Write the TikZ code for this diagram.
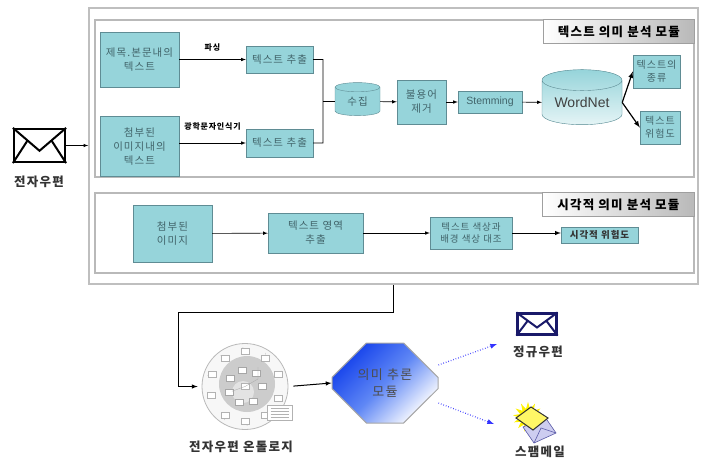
\documentclass[tikz,border=0pt]{standalone}
\usepackage{fontspec}
\setmainfont{Noto Sans CJK KR}[LetterSpace=10]
\newfontfamily\latinfont{Liberation Sans}
\usetikzlibrary{arrows, positioning, shapes.geometric, shapes.misc, calc}

\definecolor{boxfill}{RGB}{150,212,218}
\definecolor{boxline}{RGB}{95,140,148}
\definecolor{boxtext}{RGB}{65,100,106}
\definecolor{octblue}{RGB}{20,65,235}
\definecolor{octmid}{RGB}{95,135,245}
\definecolor{navy}{RGB}{25,25,105}
\definecolor{envlilac}{RGB}{205,205,240}

\tikzset{
  box/.style={draw=boxline, fill=boxfill, text=boxtext, align=center, inner sep=0pt,
    font=\fontsize{10.5}{14}\selectfont},
  db/.style={cylinder, shape border rotate=90, draw=boxline, inner sep=0pt, align=center},
  module/.style={draw=gray!55, line width=1.2pt},
  tab/.style={draw=gray!75, left color=white, right color=gray!55, anchor=north east,
    minimum height=24pt, inner sep=0pt, font=\fontsize{12.5}{14}\selectfont\bfseries},
  link/.style={->, >=latex, line width=0.6pt},
  mailicon/.style={draw, fill=white, line width=2.2pt, inner sep=0pt},
  caption/.style={font=\fontsize{12.5}{14}\selectfont\bfseries, text=black!80},
  minibox/.style={draw=gray!60, fill=white, line width=0.3pt, minimum width=8pt,
    minimum height=6pt, inner sep=0pt}
}

\begin{document}
\begin{tikzpicture}[x=1pt, y=-1pt]
\useasboundingbox (0,0) rectangle (708,461);

% frame and the two analysis modules
\node[draw=gray!50, line width=1.6pt, minimum width=609pt, minimum height=276pt] (frame) at (393.5,146) {};
\node[module, minimum width=599pt, minimum height=157pt] (textmod) at (394.5,98.5) {};
\node[module, minimum width=599pt, minimum height=80pt] (vismod) at (394.5,233) {};
\node[tab, minimum width=151pt] (texttab) at (textmod.north east) {텍스트 의미 분석 모듈};
\node[tab, minimum width=152pt] (vistab) at (vismod.north east) {시각적 의미 분석 모듈};

% text module
\node[box, minimum width=79pt, minimum height=55pt] (title) at (139.5,59.5) {제목.본문내의\\텍스트};
\node[box, minimum width=79pt, minimum height=60pt] (attach) at (139.5,146.5) {첨부된\\이미지내의\\텍스트};
\node[box, minimum width=67pt, minimum height=27pt] (ext1) at (279.5,59.5) {텍스트 추출};
\node[box, minimum width=67pt, minimum height=28pt] (ext2) at (279.5,143) {텍스트 추출};
\node[db, box, aspect=0.45, minimum width=45pt, minimum height=33pt] (collect) at (357.5,101.5) {수집};
\node[box, minimum width=49pt, minimum height=44pt] (stop) at (421.5,102) {불용어\\제거};
\node[box, minimum width=64pt, minimum height=22pt, font=\latinfont\fontsize{10.5}{12}\selectfont] (stem) at (490,102) {Stemming};
\node[db, box, aspect=0.38, minimum width=80pt, minimum height=55pt, top color=boxfill,
  bottom color=boxfill!25, text=black!75, font=\latinfont\fontsize{14}{16}\selectfont] (wordnet) at (582,102.5) {WordNet};
\node[box, minimum width=47pt, minimum height=33pt, font=\fontsize{10}{13}\selectfont] (kind) at (656.5,71.5) {텍스트의\\종류};
\node[box, minimum width=40pt, minimum height=33pt, font=\fontsize{10}{13}\selectfont] (risk) at (660,127.5) {텍스트\\위험도};

\coordinate (join) at (323,101.5);
\draw[link] (title) -- node[above=5pt, font=\fontsize{8}{9}\selectfont\bfseries] {파싱} (ext1);
\draw[link] (attach.east |- ext2) -- node[above=9pt, font=\fontsize{8}{9}\selectfont\bfseries] {광학문자인식기} (ext2);
\draw[line width=0.6pt] (ext1) -| (join) (ext2) -| (join) (join) -- (collect);
\draw[link] (collect) -- (stop);
\draw[link] (stop) -- (stem);
\draw[link] (stem) -- (wordnet);
\draw[link, line width=1.2pt] (wordnet.east) -- (kind.west);
\draw[link, line width=1.2pt] (wordnet.east) -- (risk.west);

% visual module
\node[box, minimum width=79pt, minimum height=57pt] (img) at (172.5,233.5) {첨부된\\이미지};
\node[box, minimum width=95pt, minimum height=40pt] (area) at (315.5,233) {텍스트 영역\\추출};
\node[box, minimum width=82pt, minimum height=32pt, font=\fontsize{9.5}{12.5}\selectfont] (contrast) at (471,233) {텍스트 색상과\\배경 색상 대조};
\node[box, minimum width=77pt, minimum height=16pt, text=black!80, font=\fontsize{9.5}{11}\selectfont\bfseries] (vrisk) at (599.5,235) {시각적 위험도};

\draw[link] (img) -- (area);
\draw[link] (area) -- (contrast);
\draw[link, line width=1pt] (contrast.east) -- (contrast.east -| vrisk.west);

% incoming mail
\node[mailicon, minimum width=51pt, minimum height=33pt] (mail) at (39.5,145.5) {};
\node[caption] (mailcap) at (39,182) {전자우편};
\draw[link] (mail.east) -- (mail.east -| frame.west);

% ontology
\node[circle, draw=gray!55, fill=gray!6, minimum size=86pt, line width=0.8pt] (onto) at (245,386.5) {};
\fill[gray!40] (247,384) circle [radius=28pt];
\fill[gray!22] (243,392) circle [radius=11pt];
\foreach \a in {20,55,90,125,160,195,235,270,305,340}
  \draw[gray!50, line width=0.3pt] (onto.center) ++(\a:35pt) -- ++(\a+28:5pt);
\foreach \a in {20,55,90,125,160,195,235,270,305,340}
  \node[minibox] at ($(onto.center)+(\a:35pt)$) {};
\foreach \a in {0,50,100,150,200,250,300}
  \node[minibox, draw=gray!70] at ($(onto.center)+(\a:17pt)$) {};
\node[minibox] at (onto.center) {};
\draw[gray!70, line width=0.3pt] (onto.center) -- ++(30:15pt) -- ++(90:12pt) (onto.center) -- ++(200:14pt);
\node[draw=gray!60, fill=white, minimum width=25pt, minimum height=15pt, inner sep=0pt] (legend) at (279.5,412.5) {};
\foreach \d in {-4.5,-1.5,1.5,4.5}
  \draw[gray!60, line width=0.4pt] ([xshift=-9pt, yshift=\d pt]legend.center) -- ++(18pt,0);
\node[caption] (ontocap) at (241,447) {전자우편 온톨로지};

\coordinate (bend) at (178,312);
\draw[link, line width=1pt] (frame.south) |- (bend) |- ([xshift=-4pt]onto.west);

% inference module and its two outcomes
\node[chamfered rectangle, chamfered rectangle xsep=20pt, chamfered rectangle ysep=20pt,
  minimum width=106pt, minimum height=80pt, inner sep=0pt, draw=gray!70, line width=1pt,
  top color=octblue, bottom color=white, middle color=octmid, shading angle=45,
  align=center, text=black!70, font=\fontsize{13}{17}\selectfont] (infer) at (385,383) {의미 추론\\모듈};
\draw[link, line width=1pt, shorten <=5pt] (onto.east) -- (infer.west);

\node[mailicon, draw=navy, minimum width=39pt, minimum height=21pt] (ham) at (537,324) {};
\node[caption] (hamcap) at (538,352) {정규우편};

\node[star, star points=13, star point ratio=1.8, fill=yellow, minimum size=30pt, inner sep=0pt] (spam) at (528,417) {};
\filldraw[fill=envlilac, draw=gray!70!blue, line width=0.6pt] (523,427) -- (545,417) -- (556,433) -- (534,443) -- cycle;
\draw[gray!70!blue, line width=0.6pt] (534,443) -- (541,428) -- (556,433);
\filldraw[fill=yellow!60!white, draw=black!80, line width=1pt] (516,418) -- (531,407) -- (548,418) -- (533,430) -- cycle;
\node[caption] (spamcap) at (540,452) {스팸메일};

\coordinate (hamin) at (497,344);
\coordinate (spamin) at (494,424);
\draw[link, blue!80!white, dotted, line width=1.3pt] ([yshift=18pt]infer.east) -- (hamin);
\draw[link, blue!80!white, dotted, line width=1.3pt] ([yshift=-20pt]infer.east) -- (spamin);

\foreach \m/\c in {mail/black, ham/navy} {
  \coordinate (\m-v) at ($(\m.north)!0.65!(\m.south)$);
  \draw[\c, line width=2pt] (\m.north west) -- (\m-v) -- (\m.north east);
  \draw[\c, line width=2pt] (\m.south west) -- ($(\m.north west)!0.55!(\m-v)$);
  \draw[\c, line width=2pt] (\m.south east) -- ($(\m.north east)!0.55!(\m-v)$);
}
\end{tikzpicture}
\end{document}
